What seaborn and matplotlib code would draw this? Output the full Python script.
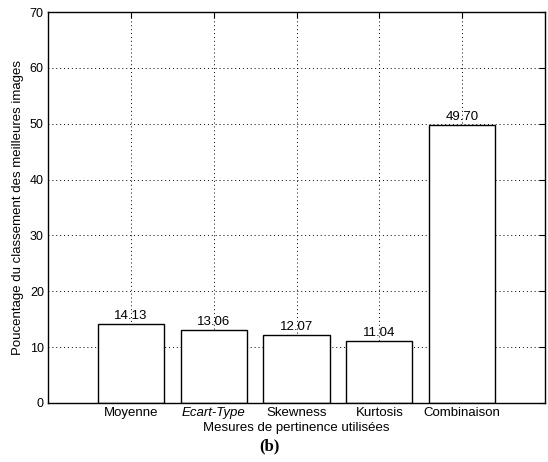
import matplotlib
matplotlib.use("Agg")
import matplotlib.pyplot as plt
import seaborn as sns
import pandas as pd

categories = ["Moyenne", "Ecart-Type", "Skewness", "Kurtosis", "Combinaison"]
values = [14.13, 13.06, 12.07, 11.04, 49.70]
value_labels = ["14.13", "13.06", "12.07", "11.04", "49.70"]
yticks = [0, 10, 20, 30, 40, 50, 60, 70]

sns.set_style("white")
plt.rcParams['font.family'] = ['Liberation Sans', 'DejaVu Sans']
plt.rcParams['text.color'] = 'black'
plt.rcParams['axes.labelcolor'] = 'black'
plt.rcParams['xtick.color'] = 'black'
plt.rcParams['ytick.color'] = 'black'

df = pd.DataFrame({"cat": categories, "val": values})

fig = plt.figure(figsize=(5.48, 4.62), dpi=100)
ax = fig.add_axes([0.0876, 0.128, 0.907, 0.846])

sns.barplot(data=df, x="cat", y="val", ax=ax, color="white", edgecolor="black",
            linewidth=1.0, width=0.8, saturation=1)

ax.set_xlim(-1, 5)
ax.set_ylim(0, 70)
ax.set_yticks(yticks)
ax.set_yticklabels([str(t) for t in yticks], fontsize=9)
ax.set_xticks(range(len(categories)))
ax.set_xticklabels(categories, fontsize=9.5)
ax.get_xticklabels()[1].set_style("italic")

ax.grid(True, linestyle=(0, (1, 3)), color="black", linewidth=0.7)
ax.set_axisbelow(True)
ax.tick_params(direction="in", length=4, top=True, right=True, width=0.8,
               pad=3, colors="black")
for s in ax.spines.values():
    s.set_visible(True)
    s.set_color("black")
    s.set_linewidth(1.0)

for i, (v, lab) in enumerate(zip(values, value_labels)):
    ax.text(i, v + 0.4, lab, ha="center", va="bottom", fontsize=9.5, color="black")

ax.set_xlabel("Mesures de pertinence utilisées", fontsize=9.5, labelpad=2)
ax.set_ylabel("Poucentage du classement des meilleures images", fontsize=9.5, labelpad=4)

fig.text(0.492, 0.033, "(b)", ha="center", va="center", fontsize=12,
         fontweight="bold", family=["Liberation Serif", "DejaVu Serif"])

fig.savefig("out.png", dpi=100)
